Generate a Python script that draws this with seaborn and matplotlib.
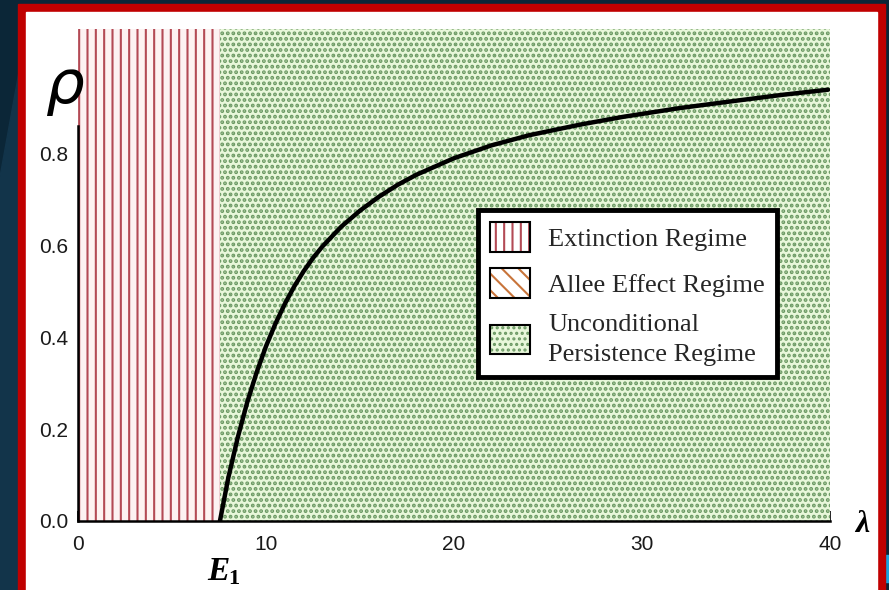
import matplotlib
matplotlib.use("Agg")
import matplotlib.pyplot as plt
from matplotlib.patches import Patch, Rectangle, Polygon
from matplotlib.legend_handler import HandlerTuple
from matplotlib.ticker import MultipleLocator, FixedLocator
import seaborn as sns

# ------------------------------------------------------------
# DATA
# ------------------------------------------------------------
lam = [7.55, 8.0, 8.5, 9.0, 9.5, 10.0, 10.5, 11.0, 11.5, 12.0, 12.5, 13.0, 14.0,
       15.0, 16.0, 17.0, 18.0, 20.0, 22.0, 24.0, 26.7, 29.0, 32.0, 35.0, 37.5, 39.9]
rho = [0.0, 0.095, 0.182, 0.258, 0.323, 0.380, 0.429, 0.472, 0.510, 0.543, 0.572,
       0.597, 0.640, 0.675, 0.705, 0.731, 0.753, 0.789, 0.817, 0.839, 0.862, 0.879,
       0.898, 0.914, 0.927, 0.938]

extinction_x   = [0.0, 7.55]
persistence_x  = [7.55, 40.0]
region_top     = 1.07

x_ticks        = [0, 10, 20, 30, 40]
y_ticks        = [0.0, 0.2, 0.4, 0.6, 0.8]
y_tick_labels  = ["0.0", "0.2", "0.4", "0.6", "0.8"]

legend_labels  = ["Extinction Regime", "Allee Effect Regime",
                  "Unconditional\nPersistence Regime"]

# ------------------------------------------------------------
# STYLE
# ------------------------------------------------------------
NAVY      = "#0b2637"
RED       = "#c00000"
STRIPE    = "#b34a55"
PINK_BG   = "#fdf2f2"
GREEN_BG  = "#e8f7da"
DOT       = "#6a9862"
ALLEE     = "#c8743a"
DOT_LW    = 1.9

W, H = 889, 590

sns.set_theme(style="white")
plt.rcParams["font.family"] = ["Liberation Sans", "DejaVu Sans"]
plt.rcParams["hatch.linewidth"] = 1.5

fig = plt.figure(figsize=(W / 100, H / 100), dpi=100)
fig.patch.set_facecolor(NAVY)


def px(x0, y0, x1, y1):
    """pixel box (top-left origin) -> figure fraction rect args"""
    return (x0 / W, 1 - y1 / H), (x1 - x0) / W, (y1 - y0) / H


# slide background decoration
fig.add_artist(Polygon([(0, 0), (0, 0.70), (0.03, 0.95), (0.03, 0)],
                       transform=fig.transFigure, color="#12344a", zorder=-3))
xy, w, h = px(885, 555, 889, 582)
fig.add_artist(Rectangle(xy, w, h, transform=fig.transFigure, color="#1aa3dc", zorder=-2))

# red frame + white card
xy, w, h = px(18, 4, 885, 590)
fig.add_artist(Rectangle(xy, w, h, transform=fig.transFigure, color=RED, zorder=-2))
xy, w, h = px(26, 12, 877, 590)
fig.add_artist(Rectangle(xy, w, h, transform=fig.transFigure, color="white", zorder=-1))

ax = fig.add_axes([78 / W, (H - 521) / H, 752 / W, 492 / H])
ax.set_facecolor("none")

# regimes
ax.fill_between(extinction_x, 0, region_top, facecolor=PINK_BG, edgecolor=STRIPE,
                hatch="||", linewidth=0, zorder=1)
with plt.rc_context({"hatch.linewidth": DOT_LW}):
    ax.fill_between(persistence_x, 0, region_top, facecolor=GREEN_BG,
                    edgecolor=DOT, hatch="...", linewidth=0, zorder=1)

# boundary curve
sns.lineplot(x=lam, y=rho, color="black", linewidth=3.2, ax=ax, zorder=3,
             sort=False, estimator=None)

ax.set_xlim(0, 40)
ax.set_ylim(0, region_top)
ax.set_xlabel("")
ax.set_ylabel("")

for s in ["top", "right"]:
    ax.spines[s].set_visible(False)
for s in ["left", "bottom"]:
    ax.spines[s].set_color("black")
    ax.spines[s].set_linewidth(1.8)
    ax.spines[s].set_zorder(4)
ax.spines["left"].set_bounds(0, 0.86)

ax.xaxis.set_major_locator(FixedLocator(x_ticks))
ax.xaxis.set_minor_locator(MultipleLocator(2))
ax.yaxis.set_major_locator(FixedLocator(y_ticks))
ax.yaxis.set_minor_locator(FixedLocator([v / 100 for v in range(0, 86, 5)]))
ax.set_yticklabels(y_tick_labels)
ax.tick_params(which="both", direction="in", color="black", width=1.2,
               bottom=True, left=True, labelsize=15, labelcolor="#1a1a1a")
ax.tick_params(which="major", length=7)
ax.tick_params(axis="x", which="major", pad=10)
ax.tick_params(axis="y", which="major", pad=7)
ax.tick_params(which="minor", length=4)

# legend
h_ext = (Patch(facecolor="white", edgecolor=STRIPE, hatch="||", linewidth=0),
         Patch(facecolor="none", edgecolor="black", linewidth=1.5))
h_all = (Patch(facecolor="white", edgecolor=ALLEE, hatch="\\\\", linewidth=0),
         Patch(facecolor="none", edgecolor="black", linewidth=1.5))
with plt.rc_context({"hatch.linewidth": DOT_LW}):
    h_per = (Patch(facecolor=GREEN_BG, edgecolor=DOT, hatch="...", linewidth=0),
             Patch(facecolor="none", edgecolor="black", linewidth=1.5))
leg = ax.legend([h_ext, h_all, h_per], legend_labels,
                handler_map={tuple: HandlerTuple(ndivide=1)},
                loc="upper left", bbox_to_anchor=(0.532, 0.632),
                prop={"family": "Liberation Serif", "size": 19},
                frameon=True, fancybox=False, framealpha=1, facecolor="white",
                edgecolor="black", handlelength=1.5, handleheight=1.35,
                handletextpad=0.7, labelspacing=0.62, borderpad=0.45,
                borderaxespad=0)
for t in leg.get_texts():
    t.set_linespacing(1.45)
leg.get_frame().set_linewidth(3.5)
leg.set_zorder(5)

# axis symbols
fig.text(64 / W, 1 - 86 / H, "ρ", fontsize=44, style="italic",
         family="DejaVu Sans", ha="center", va="center", color="black")
fig.text(862 / W, 1 - 524 / H, "λ", fontsize=23, style="italic", weight="bold",
         family="Liberation Serif", ha="center", va="center", color="black")
ax.annotate("E", xy=(extinction_x[1], 0), xycoords="data",
            xytext=(-2, -50), textcoords="offset pixels",
            fontsize=24, style="italic", weight="bold", family="Liberation Serif",
            ha="center", va="center", color="black", annotation_clip=False)
ax.annotate("1", xy=(extinction_x[1], 0), xycoords="data",
            xytext=(14, -58), textcoords="offset pixels",
            fontsize=16, weight="bold", family="Liberation Serif",
            ha="center", va="center", color="black", annotation_clip=False)

fig.savefig("out.png", dpi=100, facecolor=fig.get_facecolor())
